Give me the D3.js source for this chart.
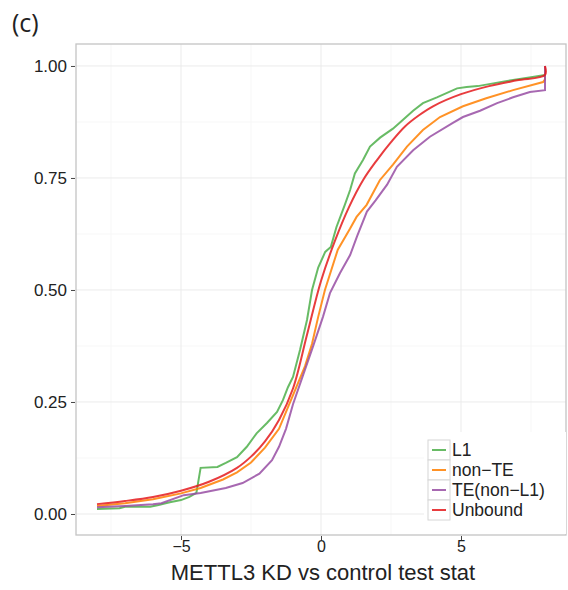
<!DOCTYPE html>
<html>
<head>
<meta charset="utf-8">
<script src="https://cdn.jsdelivr.net/npm/d3@7"></script>
<style>
  body { margin: 0; background: #fff; }
  text { font-family: "Liberation Sans", Arial, sans-serif; fill: #222; }
  .grid-major { stroke: #ebebeb; stroke-width: 1; }
  .grid-minor { stroke: #f7f7f7; stroke-width: 1; }
  .curve { fill: none; stroke-width: 2; stroke-opacity: 0.85; }
</style>
</head>
<body>
<svg width="568" height="590"></svg>
<script>
    const w = 568, h = 590;

    const seriesNames = ["L1", "non\u2212TE", "TE(non\u2212L1)", "Unbound"];
    const xTicks = [-5, 0, 5];
    const xMinor = [-7.5, -2.5, 2.5, 7.5];
    const yTicks = [0, 0.25, 0.5, 0.75, 1];
    const yMinor = [0.125, 0.375, 0.625, 0.875];

    // [test stat, cumulative fraction]
    const l1Points = [
        [-8, 0.011], [-7.2, 0.013], [-7.0, 0.016], [-6.1, 0.016], [-5.8, 0.020],
        [-5.4, 0.026], [-5.0, 0.031], [-4.7, 0.038], [-4.45, 0.047], [-4.3, 0.103],
        [-3.7, 0.105], [-3.4, 0.114], [-3.0, 0.127], [-2.65, 0.150], [-2.3, 0.180],
        [-1.93, 0.203], [-1.57, 0.228], [-1.36, 0.254], [-1.18, 0.283], [-1.0, 0.306],
        [-0.75, 0.366], [-0.5, 0.433], [-0.32, 0.50], [-0.1, 0.55], [0.15, 0.585],
        [0.35, 0.596], [0.55, 0.64], [0.85, 0.69], [1.04, 0.723], [1.21, 0.76],
        [1.5, 0.79], [1.75, 0.82], [2.11, 0.84], [2.57, 0.86], [2.93, 0.88],
        [3.29, 0.90], [3.64, 0.917], [4.14, 0.93], [4.86, 0.95], [5.2, 0.953],
        [5.6, 0.955], [6.5, 0.965], [7.5, 0.975], [8, 0.98], [8, 1.0]
    ];
    const nonTePoints = [
        [-8, 0.018], [-7, 0.024], [-6, 0.033], [-5, 0.046], [-4.3, 0.058],
        [-3.5, 0.077], [-3, 0.093], [-2.5, 0.115], [-2, 0.148], [-1.5, 0.19],
        [-1.1, 0.25], [-0.57, 0.33], [-0.32, 0.38], [-0.1, 0.44], [0.14, 0.50],
        [0.6, 0.59], [1.04, 0.637], [1.27, 0.663], [1.63, 0.69], [2.1, 0.745],
        [2.57, 0.78], [3.07, 0.82], [3.64, 0.857], [4.25, 0.886], [5.07, 0.91],
        [5.9, 0.928], [6.86, 0.946], [7.93, 0.964], [8, 0.97], [8, 1.0]
    ];
    const teNonL1Points = [
        [-8, 0.015], [-7, 0.018], [-6, 0.022], [-5.7, 0.024], [-4.9, 0.042],
        [-4.3, 0.047], [-3.4, 0.058], [-2.8, 0.069], [-2.2, 0.09], [-1.75, 0.12],
        [-1.5, 0.15], [-1.25, 0.19], [-1.0, 0.245], [-0.64, 0.31], [-0.29, 0.373],
        [0.07, 0.44], [0.32, 0.493], [0.68, 0.538], [1.04, 0.578], [1.29, 0.62],
        [1.64, 0.675], [1.95, 0.70], [2.36, 0.735], [2.71, 0.775], [3.29, 0.812],
        [3.89, 0.842], [4.71, 0.873], [5.07, 0.886], [5.68, 0.90], [6.29, 0.917],
        [6.86, 0.93], [7.46, 0.942], [8, 0.946], [8, 1.0]
    ];
    const unboundPoints = [
        [-8, 0.022], [-7, 0.029], [-6, 0.038], [-5, 0.052], [-4, 0.072],
        [-3, 0.103], [-2.5, 0.128], [-2, 0.162], [-1.5, 0.21], [-1, 0.28],
        [-0.5, 0.40], [0, 0.52], [0.5, 0.61], [1, 0.685], [1.5, 0.745],
        [2, 0.79], [2.5, 0.83], [3, 0.865], [3.5, 0.89], [4, 0.91],
        [5, 0.937], [6, 0.955], [7, 0.968], [8, 0.98], [8, 1.0]
    ];
    const seriesPoints = [l1Points, nonTePoints, teNonL1Points, unboundPoints];

    const scaleX = d3.scaleLinear().domain([-8.75, 8.75]).range([76, 566]);
    const scaleY = d3.scaleLinear().domain([-0.0469, 1.049]).range([535, 44]);
    const color  = d3.scaleOrdinal()
            .domain(seriesNames)
            .range(["#4daf4a", "#ff7f00", "#984ea3", "#e41a1c"]);

    const svg = d3.select("svg");
    const x0 = scaleX.range()[0], x1 = scaleX.range()[1];
    const y0 = scaleY.range()[0], y1 = scaleY.range()[1];

    // grid
    const grid = svg.append("g");
    grid.selectAll("line.mx").data(xMinor).join("line").attr("class", "grid-minor")
            .attr("x1", d => scaleX(d)).attr("x2", d => scaleX(d)).attr("y1", y1).attr("y2", y0);
    grid.selectAll("line.my").data(yMinor).join("line").attr("class", "grid-minor")
            .attr("y1", d => scaleY(d)).attr("y2", d => scaleY(d)).attr("x1", x0).attr("x2", x1);
    grid.selectAll("line.gx").data(xTicks).join("line").attr("class", "grid-major")
            .attr("x1", d => scaleX(d)).attr("x2", d => scaleX(d)).attr("y1", y1).attr("y2", y0);
    grid.selectAll("line.gy").data(yTicks).join("line").attr("class", "grid-major")
            .attr("y1", d => scaleY(d)).attr("y2", d => scaleY(d)).attr("x1", x0).attr("x2", x1);

    // curves
    const line = d3.line().x(d => scaleX(d[0])).y(d => scaleY(d[1]));
    const smooth = d3.line().x(d => scaleX(d[0])).y(d => scaleY(d[1])).curve(d3.curveCatmullRom.alpha(0.5));

    svg.append("g").selectAll("path.curve")
            .data(seriesNames)
            .join("path").attr("class", "curve")
            .attr("d", (d, i) => (d === "Unbound" ? smooth : line)(seriesPoints[i]))
            .style("stroke", d => color(d));

    // panel border
    svg.append("rect")
            .attr("x", x0).attr("y", y1)
            .attr("width", x1 - x0).attr("height", y0 - y1)
            .attr("fill", "none").attr("stroke", "#c4c4c4").attr("stroke-width", 1.3);

    // axes
    const axisX = d3.axisBottom(scaleX).tickValues(xTicks).tickSize(4).tickPadding(1)
            .tickFormat(d => d < 0 ? "\u2212" + Math.abs(d) : d);
    const axisY = d3.axisLeft(scaleY).tickValues(yTicks).tickSize(4).tickPadding(4)
            .tickFormat(d3.format(".2f"));

    const xG = svg.append("g").attr("transform", `translate(${[0, y0 + 1]})`).call(axisX);
    const yG = svg.append("g").attr("transform", `translate(${[x0 - 1, 0]})`).call(axisY);
    [xG, yG].forEach(g => {
        g.select(".domain").remove();
        g.selectAll(".tick line").attr("stroke", "#444");
        g.selectAll(".tick text").attr("fill", "#222");
    });
    xG.selectAll(".tick text").style("font-size", "16px");
    yG.selectAll(".tick text").style("font-size", "17px");

    svg.append("text")
            .attr("x", 323).attr("y", 580)
            .attr("text-anchor", "middle")
            .style("font-size", "22px")
            .text("METTL3 KD vs control test stat");

    svg.append("text")
            .attr("x", 12).attr("y", 32)
            .style("font-family", "'Open Sans', sans-serif")
            .style("font-size", "25px")
            .text("(c)");

    // legend
    const legend = svg.append("g").attr("transform", `translate(${[428, 440]})`);
    legend.append("rect")
            .attr("x", -4).attr("y", -8).attr("width", x1 - 424).attr("height", y0 - 433)
            .attr("fill", "#fff");

    legend.selectAll("g.item")
            .data(seriesNames)
            .join("g").attr("class", "item")
            .each(function(d, i) {
                const g = d3.select(this).attr("transform", `translate(${[0, i * 20]})`);
                g.append("rect")
                        .attr("width", 22).attr("height", 20)
                        .attr("fill", "#fff").attr("stroke", "#d6d6d6").attr("stroke-width", 1);
                g.append("line")
                        .attr("x1", 4).attr("x2", 18).attr("y1", 10).attr("y2", 10)
                        .style("stroke", color(d)).attr("stroke-width", 2).attr("stroke-opacity", 0.85);
                g.append("text")
                        .attr("x", 24).attr("y", 16)
                        .style("font-size", "17.5px")
                        .text(d);
            });
</script>
</body>
</html>
